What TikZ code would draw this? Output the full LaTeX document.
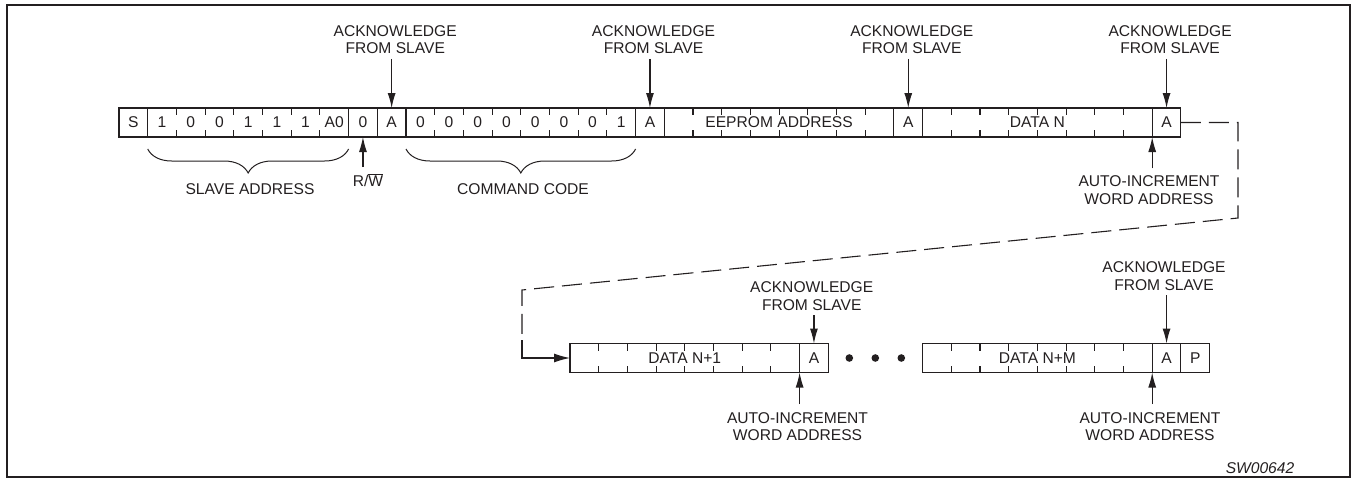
\documentclass[tikz,border=0pt]{standalone}
\usepackage{fontspec}
\setmainfont{Liberation Sans}
\usetikzlibrary{arrows.meta,decorations.pathreplacing,calc}
\definecolor{ink}{HTML}{231F20}
\newcommand{\lblfont}{\fontsize{15.6}{17.6}\selectfont}
\newcommand{\fieldticks}[2]{%
  \foreach \k in {1,...,#2}{%
    \draw[cellline] ($(#1.north west)+(\k*28.7,0)$) -- ++(0,7);
    \draw[cellline] ($(#1.south west)+(\k*28.7,0)$) -- ++(0,-7);
  }}
\begin{document}
\begin{tikzpicture}[x=1pt,y=-1pt,
  every node/.style={font=\lblfont, text=ink, inner sep=0pt, outer sep=0pt},
  cellline/.style={draw=ink, line width=1.1pt},
  cellbox/.style={draw=ink, line width=1.1pt, minimum height=29pt, minimum width=28.7pt, anchor=north west},
  lbl/.style={align=center},
  arr/.style={draw=ink, line width=1.1pt, -{Latex[length=15pt,width=8pt]}},
  dashline/.style={draw=ink, line width=1.1pt, dash pattern=on 20pt off 8pt},
  brace/.style={draw=ink, line width=1pt, decorate, decoration={brace, mirror, amplitude=24pt}},
  dotnode/.style={circle, fill=ink, minimum size=7.6pt}
]
\useasboundingbox (0,0) rectangle (1351,479);
\draw[ink, line width=2pt] (7,5) rectangle (1350,477);

% ---------- row 1 ----------
\node[cellbox] (s) at (119,108) {S};
\node[cellbox, minimum width=7*28.7pt] (sa) at (147.7,108) {};
\foreach \t [count=\i] in {1,0,0,1,1,1,A0}
  \node (sab\i) at ($(sa.west)+(\i*28.7-14.35,0)$) {\t};
\fieldticks{sa}{6}
\node[cellbox] (rw) at (348.6,108) {0};
\node[cellbox] (a1) at (377.3,108) {A};
\node[cellbox, minimum width=8*28.7pt] (cmd) at (406,108) {};
\foreach \t [count=\i] in {0,0,0,0,0,0,0,1}
  \node (cmdb\i) at ($(cmd.west)+(\i*28.7-14.35,0)$) {\t};
\fieldticks{cmd}{7}
\node[cellbox] (a2) at (635.6,108) {A};
\node[cellbox, minimum width=8*28.7pt] (ee) at (664.3,108) {EEPROM ADDRESS};
\fieldticks{ee}{7}
\node[cellbox] (a3) at (893.9,108) {A};
\node[cellbox, minimum width=8*28.7pt] (dn) at (922.6,108) {DATA N};
\fieldticks{dn}{7}
\node[cellbox] (a4) at (1152.2,108) {A};

% braces and their labels
\draw[brace] ([yshift=-12pt]sa.south west) -- ([yshift=-12pt]sa.south east);
\node (slavelbl) at (250,189) {SLAVE ADDRESS};
\draw[brace] ([yshift=-12pt]cmd.south west) -- ([yshift=-12pt]cmd.south east);
\node (cmdlbl) at (523,189) {COMMAND CODE};
\node (rwlbl) at (368,180.5) {R/$\overline{\hbox{W}}$};
\draw[arr] ($(rw.south |- rwlbl.north)+(0,-7)$) -- (rw.south);

% acknowledge labels row 1
\node[lbl] (ack1) at (395.2,39.5) {ACKNOWLEDGE\\FROM SLAVE};
\node[lbl] (ack2) at (653.5,39.5) {ACKNOWLEDGE\\FROM SLAVE};
\node[lbl] (ack3) at (911.8,39.5) {ACKNOWLEDGE\\FROM SLAVE};
\node[lbl] (ack4) at (1170.1,39.5) {ACKNOWLEDGE\\FROM SLAVE};
\draw[arr] ($(a1.north |- ack1.south)+(0,5)$) -- (a1.north);
\draw[arr] ($(a2.north |- ack2.south)+(0,5)$) -- (a2.north);
\draw[arr] ($(a3.north |- ack3.south)+(0,5)$) -- (a3.north);
\draw[arr] ($(a4.north |- ack4.south)+(0,5)$) -- (a4.north);

\node[lbl] (inc1) at (1149,190.2) {AUTO-INCREMENT\\WORD ADDRESS};
\draw[arr] ($(a4.south west |- inc1.north)+(0,-7.5)$) -- (a4.south west);

% ---------- continuation ----------
\coordinate (c1) at (1238,122.5);
\coordinate (c2) at (1238,218);
\coordinate (c3) at (522,290);
\coordinate (c4) at (522,340);
\coordinate (c5) at (522,358);
\draw[dashline] (a4.east) -- (c1) -- (c2) -- (c3) -- (c4);

% ---------- row 2 ----------
\node[cellbox, minimum width=8*28.7pt] (d1) at (570,343.5) {DATA N+1};
\fieldticks{d1}{7}
\node[cellbox] (a5) at (799.6,343.5) {A};
\draw[arr, -{Latex[length=16pt,width=9pt]}] (c4) -- (c5) -- (d1.west);

\node[dotnode] (dot1) at (849.3,358) {};
\node[dotnode] (dot2) at (875.3,358) {};
\node[dotnode] (dot3) at (901.3,358) {};

\node[cellbox, minimum width=8*28.7pt] (d2) at (922.6,343.5) {DATA N+M};
\fieldticks{d2}{7}
\node[cellbox] (a6) at (1152.2,343.5) {A};
\node[cellbox] (p) at (1180.9,343.5) {P};

\node[lbl] (ack5) at (811.7,296.4) {ACKNOWLEDGE\\FROM SLAVE};
\node[lbl] (ack6) at (1164,276.4) {ACKNOWLEDGE\\FROM SLAVE};
\draw[arr] ($(a5.north |- ack5.south)+(0,4.5)$) -- (a5.north);
\draw[arr] ($(a6.north |- ack6.south)+(0,4.5)$) -- (a6.north);

\node[lbl] (inc2) at (797.5,426.5) {AUTO-INCREMENT\\WORD ADDRESS};
\node[lbl] (inc3) at (1150,426.5) {AUTO-INCREMENT\\WORD ADDRESS};
\draw[arr] ($(a5.south west |- inc2.north)+(0,-8)$) -- (a5.south west);
\draw[arr] ($(a6.south west |- inc3.north)+(0,-8)$) -- (a6.south west);

\node[font=\lblfont\itshape] (code) at (1260,468) {SW00642};
\end{tikzpicture}
\end{document}
